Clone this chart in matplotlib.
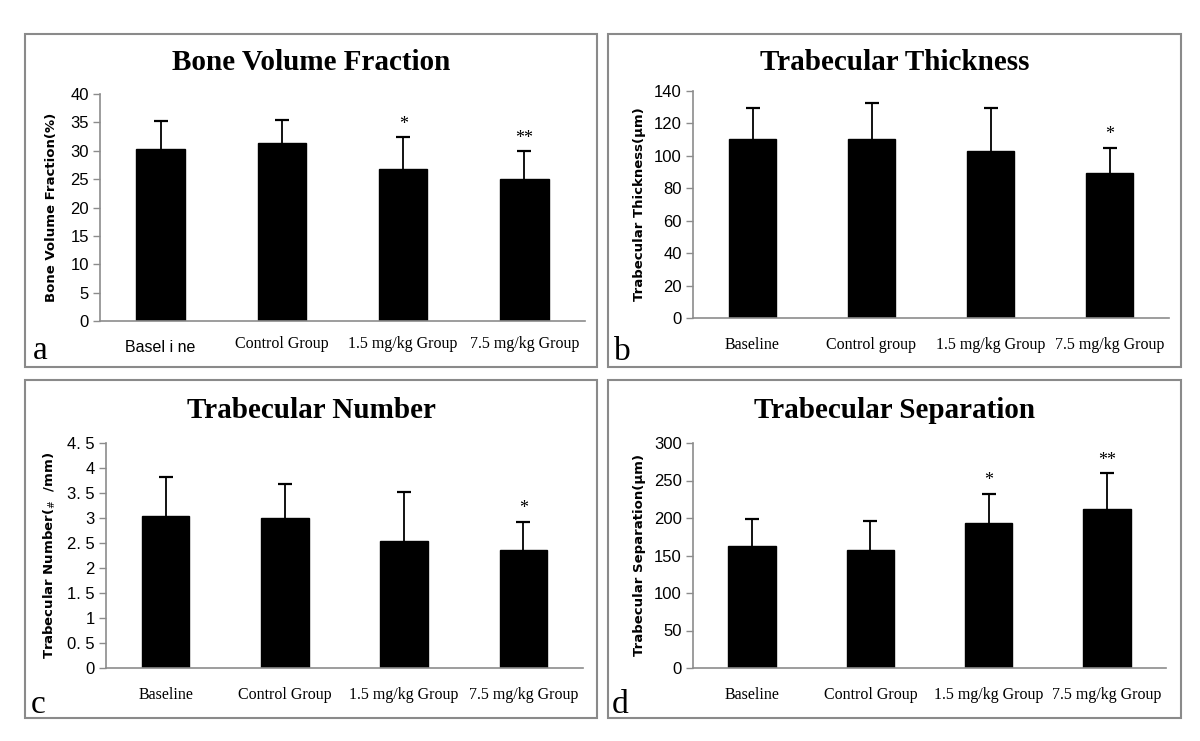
import matplotlib
matplotlib.use("Agg")
import matplotlib.pyplot as plt
from matplotlib.patches import Rectangle
import numpy as np

# ---------------- data ----------------
titles = ["Bone Volume Fraction", "Trabecular Thickness", "Trabecular Number", "Trabecular Separation"]
panel_letters = ["a", "b", "c", "d"]
ylabels = ["Bone Volume Fraction(%)", "Trabecular Thickness(\u03bcm)",
           "Trabecular Number($_{\\#}$  /mm)", "Trabecular Separation(\u03bcm)"]

cats_a = ["Basel i ne", "Control Group", "1.5 mg/kg Group", "7.5 mg/kg Group"]
cats_b = ["Baseline", "Control group", "1.5 mg/kg Group", "7.5 mg/kg Group"]
cats_c = ["Baseline", "Control Group", "1.5 mg/kg Group", "7.5 mg/kg Group"]
cats_d = ["Baseline", "Control Group", "1.5 mg/kg Group", "7.5 mg/kg Group"]

bvf_mean = [30.3, 31.3, 26.7, 25.0]
bvf_sd = [4.9, 4.1, 5.7, 5.0]
tbth_mean = [110.5, 110.5, 103.0, 89.4]
tbth_sd = [18.8, 22.3, 26.3, 15.7]
tbn_mean = [3.05, 3.00, 2.55, 2.36]
tbn_sd = [0.77, 0.68, 0.97, 0.57]
tbsp_mean = [162.5, 157.5, 194.0, 212.0]
tbsp_sd = [36.5, 38.0, 38.5, 48.0]

stars_a = ["", "", "*", "**"]
stars_b = ["", "", "", "*"]
stars_c = ["", "", "", "*"]
stars_d = ["", "", "*", "**"]

yticks_a = [0, 5, 10, 15, 20, 25, 30, 35, 40]
yticks_b = [0, 20, 40, 60, 80, 100, 120, 140]
yticks_c = [0, 0.5, 1, 1.5, 2, 2.5, 3, 3.5, 4, 4.5]
yticklabels_c = ["0", "0. 5", "1", "1. 5", "2", "2. 5", "3", "3. 5", "4", "4. 5"]
yticks_d = [0, 50, 100, 150, 200, 250, 300]

# ---------------- layout (pixels) ----------------
W, H = 1200, 741
fig = plt.figure(figsize=(12, 7.41), dpi=100)
fig.patch.set_facecolor("white")

def fx(x):
    return x / W

def fy(y):
    return (H - y) / H

boxes = [(25, 34, 597, 367), (608, 34, 1181, 367), (25, 380, 597, 718), (608, 380, 1181, 718)]
axes_px = [(100, 94, 585, 321), (693, 91, 1169, 318), (106, 443, 583, 668), (693, 443, 1166, 668)]
title_pos = [(311, 62), (895, 62), (311, 411), (895, 411)]
letter_pos = [(40, 351), (622, 352), (38, 705), (620, 705)]
ylabel_x = [52, 640, 50, 640]

panels = [
    (cats_a, bvf_mean, bvf_sd, stars_a, yticks_a, [str(t) for t in yticks_a]),
    (cats_b, tbth_mean, tbth_sd, stars_b, yticks_b, [str(t) for t in yticks_b]),
    (cats_c, tbn_mean, tbn_sd, stars_c, yticks_c, yticklabels_c),
    (cats_d, tbsp_mean, tbsp_sd, stars_d, yticks_d, [str(t) for t in yticks_d]),
]

serif = ["Liberation Serif", "DejaVu Serif"]
sans = ["Liberation Sans", "DejaVu Sans"]
spine_col = "#8c8c8c"

for i, (cats, means, sds, stars, yt, ytl) in enumerate(panels):
    # panel frame
    x0, y0, x1, y1 = boxes[i]
    fig.patches.append(Rectangle((fx(x0), fy(y1)), fx(x1) - fx(x0), fy(y0) - fy(y1),
                                 transform=fig.transFigure, fill=False,
                                 edgecolor="#8a8a8a", linewidth=1.5))
    ax0, ay0, ax1, ay1 = axes_px[i]
    ax = fig.add_axes([fx(ax0), fy(ay1), fx(ax1) - fx(ax0), fy(ay0) - fy(ay1)])
    ax.set_facecolor("none")
    x = np.arange(len(cats))
    ax.bar(x, means, width=0.4, color="black", edgecolor="black", zorder=2)
    eb = ax.errorbar(x, means, yerr=[np.zeros(len(sds)), sds], fmt="none", ecolor="black",
                     elinewidth=1.3, capsize=5, capthick=1.6, zorder=3)
    # only upper caps (the lower one would sit on the bar top)
    eb[1][0].set_visible(False)
    for xi, m, s, st in zip(x, means, sds, stars):
        if st:
            ax.annotate(st, (xi, m + s), xytext=(0, 3), textcoords="offset points",
                        ha="center", va="bottom", fontsize=13, family=serif)
    ax.set_xlim(-0.5, len(cats) - 0.5)
    ax.set_ylim(yt[0], yt[-1])
    ax.set_yticks(yt)
    ax.set_yticklabels(ytl, family=sans, fontsize=12)
    ax.set_xticks(x)
    if i == 0:
        ax.set_xticklabels([cats[0]] + [""] * 3)
        for xi, c in zip(x[1:], cats[1:]):
            ax.text(xi, -0.065, c, transform=ax.get_xaxis_transform(), ha="center",
                    va="top", fontsize=11.5, family=serif)
        for lab in ax.get_xticklabels():
            lab.set_family(sans)
            lab.set_fontsize(11.5)
    else:
        ax.set_xticklabels(cats, family=serif, fontsize=11.5)
    ax.tick_params(axis="x", length=0, pad=14)
    ax.tick_params(axis="y", length=5, width=1, color=spine_col, pad=3)
    for side in ("top", "right"):
        ax.spines[side].set_visible(False)
    for side in ("left", "bottom"):
        ax.spines[side].set_color(spine_col)
        ax.spines[side].set_linewidth(1.2)
    # titles
    tx, ty = title_pos[i]
    fig.text(fx(tx), fy(ty), titles[i], ha="center", va="center", fontsize=21,
             fontweight="bold", family=serif)
    lx, ly = letter_pos[i]
    fig.text(fx(lx), fy(ly), panel_letters[i], ha="center", va="center", fontsize=24,
             family=serif)
    fig.text(fx(ylabel_x[i]), (fy(ay0) + fy(ay1)) / 2, ylabels[i], rotation=90,
             ha="center", va="center", fontsize=9.5, fontweight="bold", family=["DejaVu Sans"])

fig.savefig("out.png", dpi=100, facecolor="white")
